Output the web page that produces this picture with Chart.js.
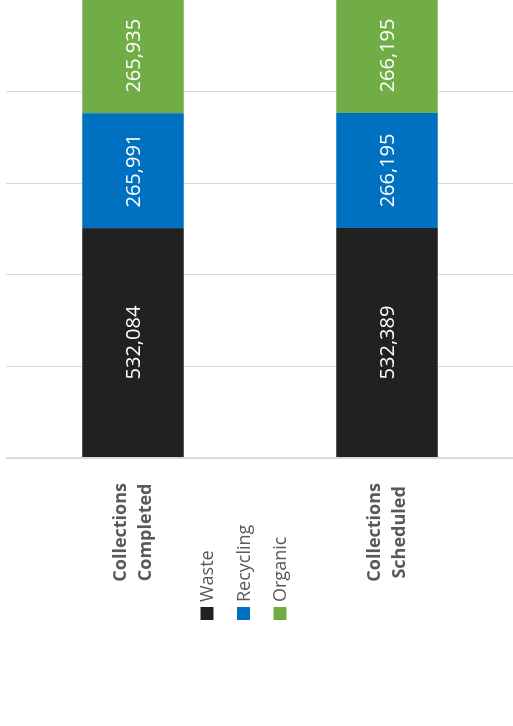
<!DOCTYPE html>
<html>
<head>
<meta charset="utf-8">
<script src="https://cdn.jsdelivr.net/npm/chart.js@4/dist/chart.umd.min.js"></script>
<style>
  html, body { margin: 0; padding: 0; background: #fff; overflow: hidden; }
  #page { position: relative; width: 513px; height: 726px; overflow: hidden; }
  /* chart is drawn as a horizontal bar chart and turned a quarter to the left */
  #wrap { position: absolute; left: 0; top: 0; width: 726px; height: 514px;
          transform-origin: 0 0; transform: translateY(726px) rotate(-90deg); }
</style>
</head>
<body>
<div id="page">
  <div id="wrap"><canvas id="chartContainer" width="726" height="514"></canvas></div>
</div>
<script>
// Data
const categories = [['Collections', 'Completed'], ['Collections', 'Scheduled']];
const seriesNames = ['Waste', 'Recycling', 'Organic'];
const wasteValues = [532084, 532389];
const recyclingValues = [265991, 266195];
const organicValues = [265935, 266195];
const axisMax = 1060000;
const axisStep = 212000;

const seriesColors = ['#212121', '#0070c0', '#70ad47'];
const textGray = '#595959';

// value labels in the middle of each segment
const valueLabels = {
    id: 'valueLabels',
    afterDatasetsDraw(chart) {
        const ctx = chart.ctx;
        ctx.save();
        ctx.font = '20px "Open Sans"';
        ctx.fillStyle = '#ffffff';
        ctx.textAlign = 'center';
        ctx.textBaseline = 'middle';
        chart.data.datasets.forEach((dataset, di) => {
            chart.getDatasetMeta(di).data.forEach((bar, i) => {
                const cx = (bar.x + bar.base) / 2;
                ctx.fillText(dataset.data[i].toLocaleString('en-US'), cx, bar.y + 1);
            });
        });
        ctx.restore();
    }
};

// legend sits in the label column, between the two categories
const sideLegend = {
    id: 'sideLegend',
    afterDraw(chart) {
        const ctx = chart.ctx;
        ctx.save();
        ctx.font = '18px "Open Sans"';
        ctx.textBaseline = 'middle';
        ctx.textAlign = 'left';
        chart.data.datasets.forEach((dataset, i) => {
            const cy = 207 + i * 36.5;
            ctx.fillStyle = dataset.backgroundColor;
            ctx.fillRect(106, cy - 6.5, 13, 13);
            ctx.fillStyle = textGray;
            ctx.fillText(dataset.label, 124, cy + 1);
        });
        ctx.restore();
    }
};

const seriesValues = [wasteValues, recyclingValues, organicValues];

new Chart(document.getElementById('chartContainer').getContext('2d'), {
    type: 'bar',
    data: {
        labels: categories,
        datasets: seriesNames.map((name, i) => ({
            label: name,
            data: seriesValues[i],
            backgroundColor: seriesColors[i],
            borderWidth: 0,
            barPercentage: 0.4,
            categoryPercentage: 1
        }))
    },
    options: {
        indexAxis: 'y',
        responsive: false,
        animation: false,
        layout: { padding: { top: 6, right: 0, bottom: 0, left: 0 } },
        plugins: {
            legend: { display: false },
            tooltip: { enabled: false }
        },
        scales: {
            x: {
                stacked: true,
                min: 0,
                max: axisMax,
                ticks: { display: false, stepSize: axisStep },
                border: { display: false },
                grid: {
                    drawTicks: false,
                    color: (context) => context.tick.value >= axisMax ? 'rgba(0,0,0,0)' : '#d9d9d9',
                    lineWidth: (context) => context.tick.value === 0 ? 2 : 1
                },
                afterFit(scale) {
                    scale.paddingLeft = 0;
                    scale.paddingRight = 0;
                }
            },
            y: {
                stacked: true,
                border: { display: false },
                grid: { display: false, drawTicks: false },
                ticks: {
                    crossAlign: 'center',
                    padding: 25,
                    color: textGray,
                    font: { family: 'Open Sans', size: 18, weight: 'bold', lineHeight: 1.4 }
                },
                afterFit(scale) {
                    scale.width = 268;
                    scale.paddingTop = 0;
                    scale.paddingBottom = 0;
                }
            }
        }
    },
    plugins: [valueLabels, sideLegend]
});
</script>
</body>
</html>
